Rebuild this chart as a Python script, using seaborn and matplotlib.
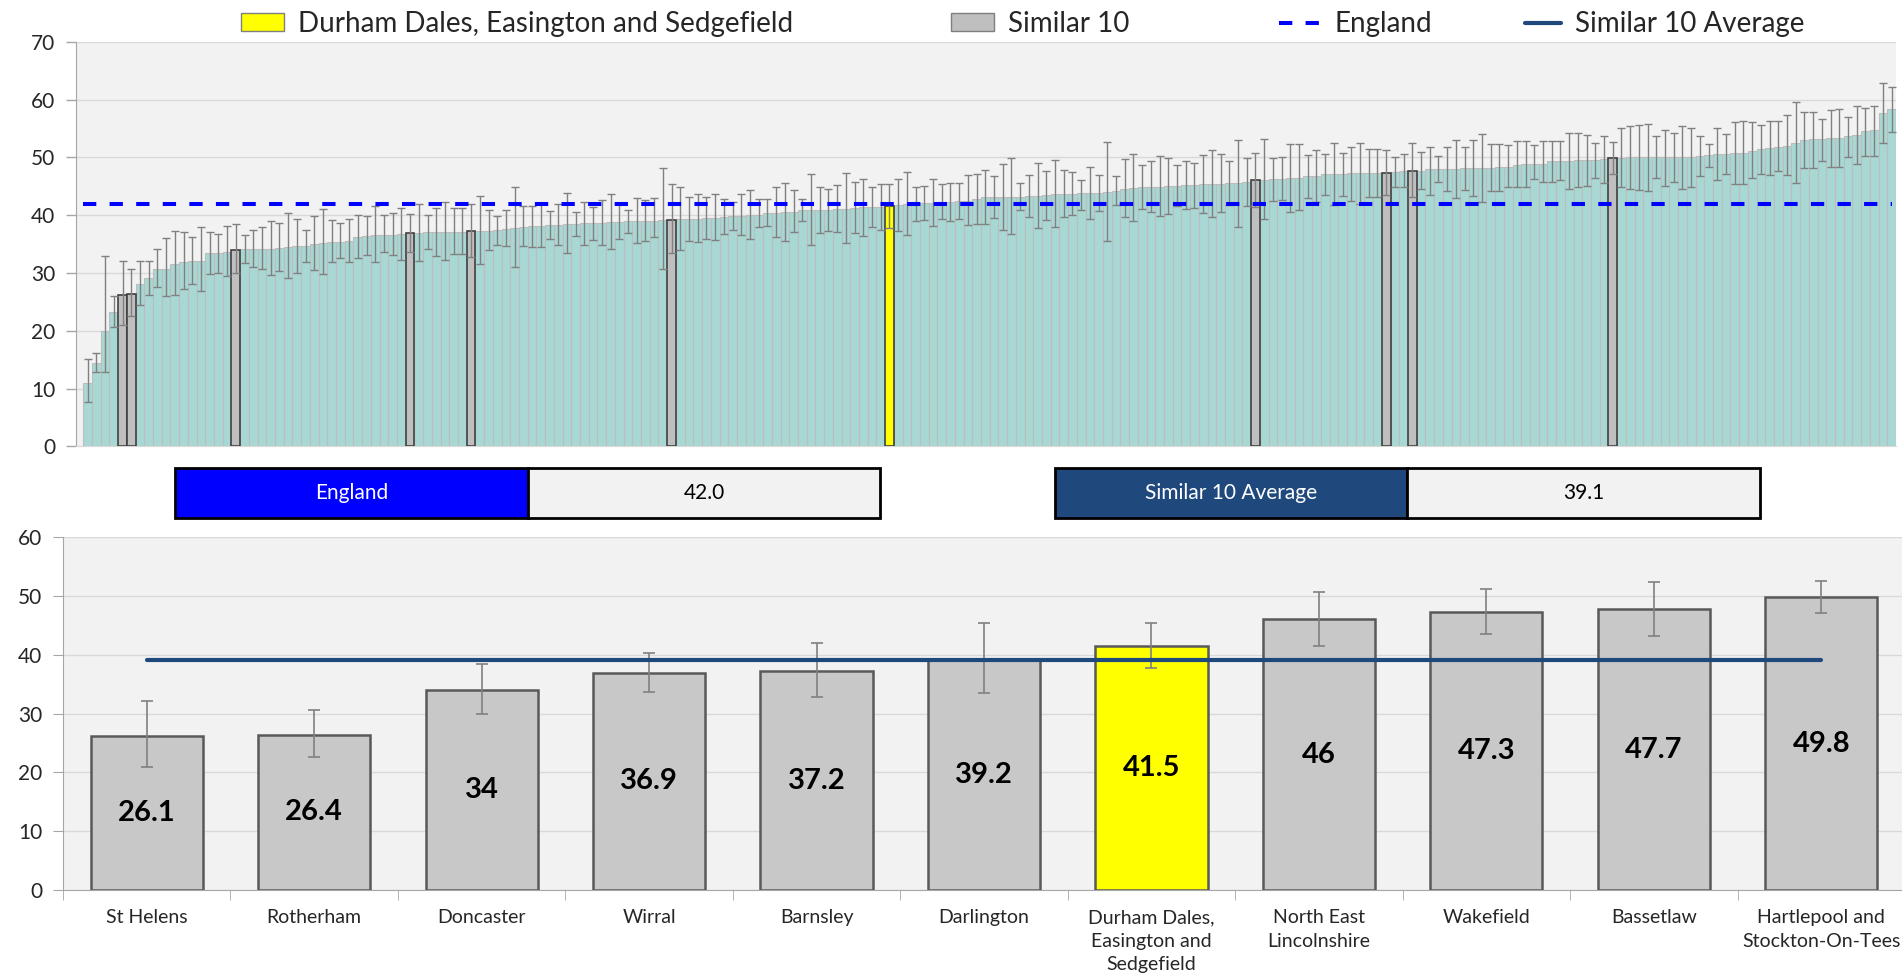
"""
CCG ranking chart: all England CCGs (top) and the Similar 10 comparison (bottom).
"""
import numpy as np
import matplotlib
matplotlib.use('Agg')
import matplotlib.pyplot as plt
from matplotlib.patches import Patch, Rectangle
from matplotlib.lines import Line2D
import seaborn as sns

# ---- data ----
# all CCGs in England, ranked low to high
ccg_values = [
    10.9, 14.4, 20.0, 23.3, 26.1, 26.4, 28.1, 29.1, 30.6, 30.7,
    31.5, 31.9, 32.0, 32.1, 33.4, 33.5, 33.7, 34.0, 34.1, 34.1,
    34.1, 34.2, 34.3, 34.5, 34.6, 34.7, 35.0, 35.1, 35.4, 35.4,
    35.6, 36.2, 36.4, 36.6, 36.6, 36.6, 36.7, 36.9, 36.9, 37.0,
    37.0, 37.0, 37.0, 37.1, 37.2, 37.2, 37.25, 37.4, 37.6, 37.8,
    38.0, 38.1, 38.2, 38.3, 38.35, 38.4, 38.5, 38.6, 38.6, 38.7,
    38.75, 38.8, 38.9, 39.0, 39.0, 39.05, 39.1, 39.2, 39.3, 39.3,
    39.4, 39.45, 39.55, 39.6, 39.85, 39.9, 40.0, 40.1, 40.3, 40.4,
    40.5, 40.6, 40.8, 40.8, 40.85, 40.9, 41.0, 41.1, 41.3, 41.35,
    41.4, 41.4, 41.5, 41.75, 41.9, 42.0, 42.1, 42.15, 42.2, 42.3,
    42.4, 42.5, 42.7, 43.1, 43.1, 43.15, 43.2, 43.2, 43.25, 43.3,
    43.4, 43.6, 43.6, 43.7, 43.8, 43.8, 43.9, 44.0, 44.2, 44.6,
    44.7, 44.8, 44.9, 44.9, 44.95, 45.0, 45.2, 45.2, 45.3, 45.4,
    45.45, 45.5, 45.6, 45.8, 46.0, 46.1, 46.25, 46.25, 46.4, 46.5,
    46.7, 46.8, 47.05, 47.05, 47.1, 47.2, 47.2, 47.25, 47.3, 47.3,
    47.4, 47.6, 47.7, 47.7, 47.9, 48.0, 48.0, 48.05, 48.1, 48.1,
    48.2, 48.2, 48.3, 48.4, 48.7, 48.8, 48.8, 48.9, 49.3, 49.4,
    49.4, 49.45, 49.5, 49.6, 49.65, 49.8, 49.9, 50.0, 50.0, 50.0,
    50.0, 50.05, 50.05, 50.1, 50.1, 50.3, 50.35, 50.5, 50.6, 50.7,
    50.7, 51.15, 51.4, 51.55, 51.8, 52.0, 52.5, 53.0, 53.1, 53.2,
    53.3, 53.4, 53.6, 53.9, 54.6, 54.7, 57.7, 58.3,
]
ccg_low = [
    7.7, 12.9, 12.8, 20.7, 20.9, 22.6, 24.5, 26.2, 27.5, 26.0,
    26.2, 27.2, 28.1, 26.8, 29.8, 30.0, 29.5, 29.9, 31.7, 31.1,
    30.6, 29.6, 30.4, 29.2, 30.0, 31.9, 30.5, 29.8, 31.8, 32.5,
    31.8, 32.5, 33.1, 31.8, 33.6, 33.1, 32.2, 33.7, 32.1, 34.1,
    32.9, 32.2, 33.2, 33.2, 32.8, 31.5, 33.9, 34.9, 34.7, 31.1,
    34.7, 34.5, 34.4, 35.9, 34.8, 33.4, 36.4, 34.9, 35.7, 34.9,
    34.1, 35.8, 36.9, 35.2, 35.6, 36.2, 30.7, 33.4, 34.0, 35.6,
    35.3, 35.9, 35.7, 36.7, 37.5, 36.5, 35.9, 37.9, 38.1, 36.2,
    35.6, 37.1, 38.9, 34.8, 36.9, 37.3, 37.0, 35.2, 36.9, 36.4,
    38.0, 37.4, 37.7, 37.3, 36.6, 39.0, 39.2, 38.1, 39.4, 39.0,
    39.3, 38.3, 38.5, 38.4, 39.5, 37.5, 36.7, 40.9, 39.6, 37.8,
    39.2, 37.9, 39.6, 40.1, 40.9, 39.3, 40.7, 35.6, 41.8, 39.6,
    38.9, 41.1, 40.5, 39.8, 40.2, 41.6, 41.1, 41.3, 40.4, 39.7,
    40.6, 41.8, 38.0, 41.5, 41.4, 39.3, 42.5, 42.6, 40.6, 40.8,
    42.9, 42.2, 43.5, 41.8, 43.3, 42.5, 42.0, 43.1, 43.1, 43.5,
    44.9, 44.9, 43.1, 44.6, 43.5, 45.7, 44.1, 43.0, 44.3, 43.3,
    42.3, 44.2, 44.2, 44.9, 44.9, 44.8, 46.3, 45.7, 45.7, 46.1,
    44.6, 44.8, 45.1, 46.4, 45.5, 47.1, 44.9, 44.5, 44.3, 44.1,
    46.4, 45.1, 45.7, 44.5, 44.9, 46.8, 48.3, 46.0, 47.1, 45.4,
    45.3, 46.4, 47.1, 47.0, 47.6, 46.9, 45.5, 48.2, 48.2, 49.4,
    48.3, 48.3, 50.1, 48.9, 50.3, 50.2, 52.5, 54.4,
]
ccg_high = [
    15.1, 16.1, 33.0, 26.0, 32.1, 30.6, 32.1, 32.1, 34.1, 36.0,
    37.3, 37.0, 36.2, 37.9, 37.0, 36.7, 38.2, 38.4, 36.5, 37.4,
    37.9, 38.9, 38.6, 40.3, 39.3, 37.5, 39.9, 41.0, 39.2, 38.6,
    39.4, 40.0, 39.9, 41.6, 40.0, 40.3, 41.3, 40.2, 42.0, 40.1,
    41.3, 42.3, 41.2, 41.2, 41.9, 43.3, 40.9, 39.9, 40.8, 44.9,
    41.5, 41.6, 41.9, 40.7, 41.9, 43.8, 40.6, 42.2, 41.4, 42.6,
    43.6, 41.9, 40.8, 43.0, 42.6, 42.9, 48.2, 45.3, 44.9, 43.2,
    43.7, 43.1, 43.7, 42.8, 42.3, 43.6, 44.3, 42.8, 42.7, 44.8,
    45.6, 44.4, 42.8, 47.1, 44.8, 44.5, 45.2, 47.3, 45.8, 46.3,
    44.8, 45.4, 45.4, 46.3, 47.5, 44.9, 45.0, 46.2, 45.3, 45.6,
    45.5, 46.9, 47.1, 47.8, 46.7, 48.8, 49.8, 45.6, 47.0, 49.0,
    47.6, 49.5, 47.8, 47.4, 46.0, 48.4, 47.0, 52.7, 46.7, 49.7,
    50.5, 48.6, 49.3, 50.2, 49.9, 48.6, 49.4, 49.1, 50.4, 51.3,
    50.5, 49.3, 53.0, 49.9, 50.7, 53.2, 49.8, 50.0, 52.3, 52.3,
    50.4, 51.3, 50.6, 52.4, 50.8, 51.8, 52.4, 51.4, 51.5, 51.2,
    50.1, 50.5, 52.4, 50.9, 51.8, 50.2, 51.8, 53.0, 51.8, 53.0,
    54.0, 52.3, 52.3, 52.2, 52.8, 52.8, 52.2, 52.9, 52.9, 52.8,
    54.2, 54.2, 53.9, 52.5, 53.6, 52.6, 55.0, 55.4, 55.6, 55.8,
    53.6, 54.8, 54.2, 55.5, 55.0, 53.7, 52.3, 55.0, 54.0, 56.1,
    56.2, 56.1, 55.6, 56.2, 56.3, 57.3, 59.6, 57.8, 57.9, 56.7,
    58.2, 58.4, 56.9, 58.9, 58.6, 58.9, 62.8, 62.2,
]

# the selected CCG and its Similar 10, with their rank in the England list
similar_names = [
    'St Helens', 'Rotherham', 'Doncaster', 'Wirral', 'Barnsley', 'Darlington',
    'Durham Dales,\nEasington and\nSedgefield', 'North East\nLincolnshire',
    'Wakefield', 'Bassetlaw', 'Hartlepool and\nStockton-On-Tees',
]
similar_rank = [4, 5, 17, 37, 44, 67, 92, 134, 149, 152, 175]
selected_name = 'Durham Dales,\nEasington and\nSedgefield'
england_value = 42.0

# colours
TEAL = '#A8D8D4'
GREY_BAR = '#C8C8C8'
YELLOW = '#FFFF00'
ENGLAND_BLUE = '#0000FF'
NAVY = '#1F497D'
BG = '#F2F2F2'

vals = np.array(ccg_values)
lo = np.array(ccg_low)
hi = np.array(ccg_high)
n = len(vals)
x = np.arange(n)

sim_vals = vals[similar_rank]
sim_lo = lo[similar_rank]
sim_hi = hi[similar_rank]
sel_idx = similar_names.index(selected_name)
similar_avg = np.mean(np.delete(sim_vals, sel_idx))

sns.set_style('white')
plt.rcParams['font.family'] = ['Lato', 'DejaVu Sans']

W, H = 1902, 976
fig = plt.figure(figsize=(W / 100, H / 100), dpi=100)


def px_rect(left, top, right, bottom):
    return [left / W, 1 - bottom / H, (right - left) / W, (bottom - top) / H]


# ---- top chart: every CCG ----
ax1 = fig.add_axes(px_rect(76, 41.7, 1896, 446.3))
ax1.set_facecolor(BG)
sns.barplot(x=x, y=vals, color=TEAL, width=1.0, native_scale=True, saturation=1,
            edgecolor='#BDBDBD', linewidth=0.8, errorbar=None, ax=ax1)
for i, p in enumerate(ax1.patches):
    if i in similar_rank:
        k = similar_rank.index(i)
        p.set_facecolor(YELLOW if k == sel_idx else '#BFBFBF')
        p.set_edgecolor('#404040')
        p.set_linewidth(1.2)
        p.set_zorder(3)
ax1.errorbar(x, vals, yerr=[vals - lo, hi - vals], fmt='none', ecolor='#808080',
             elinewidth=1, capsize=3, capthick=1, zorder=4)
ax1.hlines(england_value, x[0] - 0.5, x[-1], color=ENGLAND_BLUE, lw=2.9,
           linestyle=(0, (3.3, 3.3)), zorder=5)
ax1.set_xlim(-1.34, n - 0.5)
ax1.set_ylim(0, 70)
ax1.set_yticks(range(0, 71, 10))
ax1.set_xticks([])
ax1.set_xlabel('')
ax1.yaxis.grid(True, color='#D9D9D9', lw=1)
ax1.set_axisbelow(True)
ax1.tick_params(axis='y', left=True, length=7, width=1, color='#A6A6A6',
                labelsize=15, pad=8)
for s in ['top', 'right']:
    ax1.spines[s].set_visible(False)
ax1.spines['left'].set_color('#A6A6A6')
ax1.spines['bottom'].set_color('#D9D9D9')

# ---- legend: one entry per slot, as laid out in the original ----
legend_items = [
    (Patch(facecolor=YELLOW, edgecolor='#7F7F7F'),
     'Durham Dales, Easington and Sedgefield', 241, 1.55),
    (Patch(facecolor='#BFBFBF', edgecolor='#7F7F7F'), 'Similar 10', 951, 1.55),
    (Line2D([], [], color=ENGLAND_BLUE, lw=2.9, linestyle=(0, (3.3, 3.3))),
     'England', 1279, 1.5),
    (Line2D([], [], color=NAVY, lw=3), 'Similar 10 Average', 1525, 1.3),
]
for handle, label, x0, hlen in legend_items:
    fig.legend([handle], [label], loc='center left',
               bbox_to_anchor=(x0 / W, 1 - 24 / H), frameon=False, fontsize=20,
               handlelength=hlen, handleheight=0.62, handletextpad=0.5,
               borderpad=0, borderaxespad=0)

# ---- summary boxes ----
def value_box(left, mid, right, top, bottom, name, value, colour):
    fig.add_artist(Rectangle((left / W, 1 - bottom / H), (mid - left) / W,
                             (bottom - top) / H, transform=fig.transFigure,
                             facecolor=colour, edgecolor='black', lw=2))
    fig.add_artist(Rectangle((mid / W, 1 - bottom / H), (right - mid) / W,
                             (bottom - top) / H, transform=fig.transFigure,
                             facecolor=BG, edgecolor='black', lw=2))
    yc = 1 - (top + bottom) / 2 / H
    fig.text((left + mid) / 2 / W, yc, name, color='white', fontsize=15,
             ha='center', va='center')
    fig.text((mid + right) / 2 / W, yc, f'{value:.1f}', color='black',
             fontsize=15, ha='center', va='center')


value_box(175, 528, 880, 468, 518, 'England', england_value, ENGLAND_BLUE)
value_box(1055, 1407, 1760, 468, 518, 'Similar 10 Average', similar_avg, NAVY)

# ---- bottom chart: Similar 10 ----
ax2 = fig.add_axes(px_rect(63, 537, 1905, 890))
ax2.set_facecolor(BG)
palette = [YELLOW if k == sel_idx else GREY_BAR for k in range(len(similar_names))]
sns.barplot(x=similar_names, y=sim_vals, hue=similar_names, palette=palette,
            legend=False, width=0.67, saturation=1, edgecolor='#595959',
            linewidth=1.8, errorbar=None, ax=ax2)
xs = np.arange(len(similar_names))
ax2.errorbar(xs, sim_vals, yerr=[sim_vals - sim_lo, sim_hi - sim_vals], fmt='none',
             ecolor='#808080', elinewidth=1.2, capsize=4, capthick=1.2, zorder=4)
ax2.plot([xs[0], xs[-1]], [similar_avg, similar_avg], color=NAVY, lw=3, zorder=5)
for k, v in enumerate(sim_vals):
    ax2.text(k, v / 2, f'{v:g}', ha='center', va='center', fontsize=21,
             fontweight='bold', color='black', zorder=6)
ax2.set_xlim(-0.5, len(similar_names) - 0.5)
ax2.set_ylim(0, 60)
ax2.set_yticks(range(0, 61, 10))
ax2.set_xlabel('')
ax2.set_ylabel('')
ax2.yaxis.grid(True, color='#D9D9D9', lw=1)
ax2.set_axisbelow(True)
ax2.set_xticks(np.arange(-0.5, len(similar_names)), minor=True)
ax2.tick_params(axis='x', which='major', length=0, labelsize=14, pad=14)
ax2.tick_params(axis='x', which='minor', bottom=True, length=7, color='#A6A6A6')
ax2.tick_params(axis='y', left=True, length=7, color='#A6A6A6', labelsize=15, pad=8)
for lbl in ax2.get_xticklabels():
    lbl.set_linespacing(1.45)
for s in ['top', 'right']:
    ax2.spines[s].set_visible(False)
ax2.spines['left'].set_color('#A6A6A6')
ax2.spines['bottom'].set_color('#A6A6A6')

fig.savefig('out.png', dpi=100)
plt.close(fig)
